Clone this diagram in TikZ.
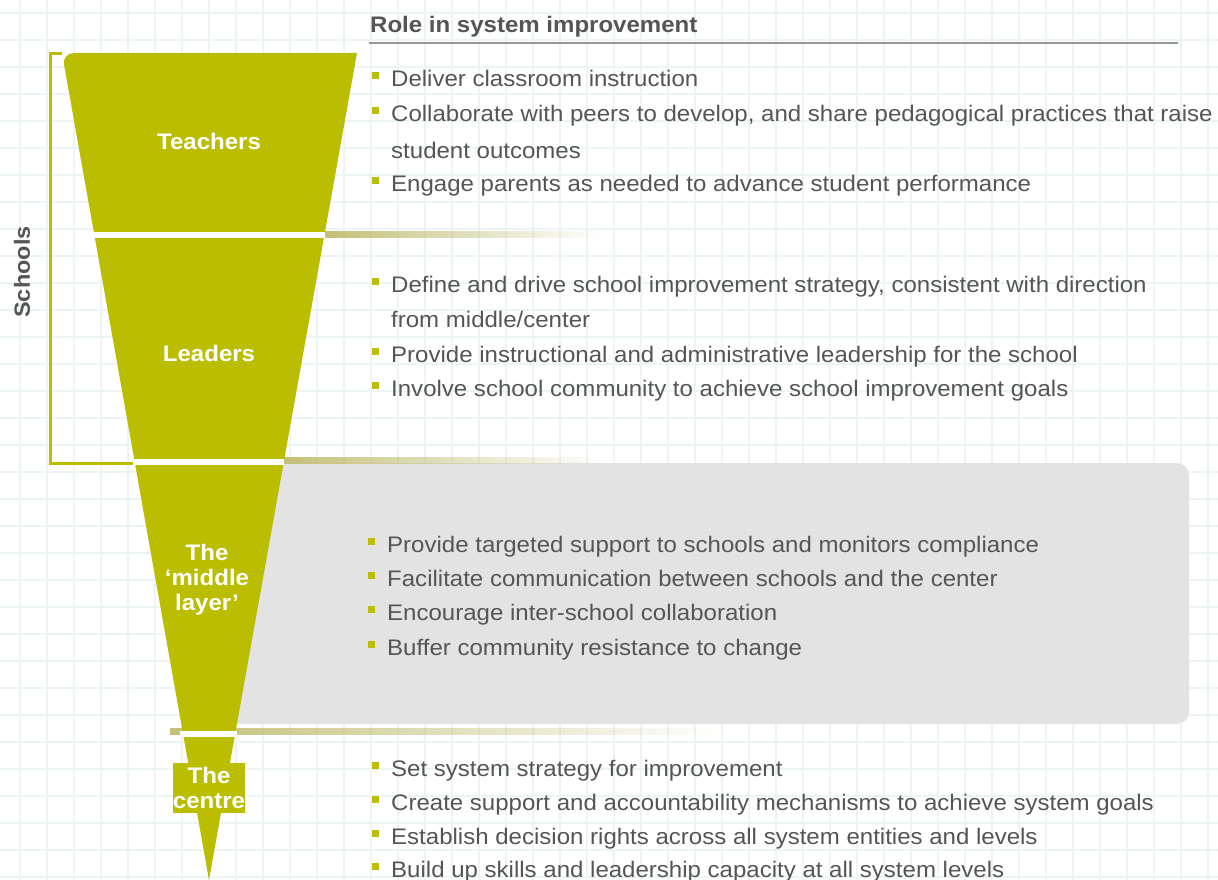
\documentclass[tikz,border=0pt]{standalone}
\usepackage{fontspec}
\setmainfont{Liberation Sans}
\newfontfamily\wide[FakeStretch=1.068]{Liberation Sans}
\usetikzlibrary{calc,fadings}
\definecolor{olv}{RGB}{187,190,0}
\definecolor{tgray}{RGB}{85,85,85}
\definecolor{gridc}{RGB}{236,244,246}
\definecolor{boxc}{RGB}{227,227,227}
\definecolor{barc}{RGB}{196,192,120}
\definecolor{linec}{RGB}{150,150,150}
\tikzset{
  txt/.style={font=\wide\fontsize{22.5}{26}\selectfont, text=tgray, inner sep=0pt, anchor=base west},
  lbl/.style={font=\wide\fontsize{22.5}{25}\selectfont\bfseries, text=white, align=center, inner sep=0pt},
  sep/.style={fill=white},
  bar/.style={fill=barc, path fading=east},
  bul/.style={fill=olv},
  gridline/.style={gridc, line width=1.3pt},
}
\newcommand\bitem[3]{%
  \node[txt] (#1) at (#2) {#3};
  \fill[bul] ($(#1.base west)+(-19.5,-14.5)$) rectangle ++(7,7);
}
\newcommand\citem[3]{%
  \node[txt] (#1) at (#2) {#3};
}
\begin{document}
\begin{tikzpicture}[x=1pt,y=-1pt]
\useasboundingbox (0,0) rectangle (1218,880);
\fill[white] (0,0) rectangle (1218,880);
% background grid
\foreach \gx in {20,47,...,1230} {\draw[gridline] (\gx,0) -- (\gx,880);}
\foreach \gy in {13,40,...,890} {\draw[gridline] (0,\gy) -- (1218,\gy);}
% gray box behind the middle layer
\fill[boxc, rounded corners=12] (225,463) rectangle (1189,724);
% gradient bars
\fill[bar] (325,231) rectangle (600,238);
\fill[bar] (283,457) rectangle (600,464);
\fill[bar] (170,728) rectangle (720,735);
% funnel
\fill[olv] (209,880) [rounded corners=12] -- (62,53) [sharp corners] -- (357,53) -- cycle;
% separators
\fill[sep] (88,232) rectangle (325,238);
\fill[sep] (132,459) rectangle (284,465);
\fill[sep] (180,731) rectangle (237,737);
% bracket
\draw[olv, line width=3pt] (62,54) -- (50,54) -- (50,463) -- (133,463);
\node[font=\wide\fontsize{22}{24}\selectfont\bfseries, text=tgray, rotate=90] (schools) at (22,272) {Schools};
% funnel labels
\node[lbl] (teachers) at (209,141) {Teachers};
\node[lbl] (leaders) at (209,353) {Leaders};
\node[lbl] (middle) at (207,580) {The\\‘middle\\layer’};
\node[lbl, fill=olv, minimum width=72pt, minimum height=50pt] (centre) at (209,788) {The\\centre};
% header
\node[font=\wide\fontsize{22.5}{26}\selectfont\bfseries, text=tgray, inner sep=0pt, anchor=base west] (head) at (370,33) {Role in system improvement};
\draw[linec, line width=1.2pt] (369,43) -- (1178,43);
% teachers
\bitem{t1}{391,87}{Deliver classroom instruction}
\bitem{t2}{391,122}{Collaborate with peers to develop, and share pedagogical practices that raise}
\citem{t2b}{391,158}{student outcomes}
\bitem{t3}{391,191}{Engage parents as needed to advance student performance}
% leaders
\bitem{l1}{391,292}{Define and drive school improvement strategy, consistent with direction}
\citem{l1b}{391,327}{from middle/center}
\bitem{l2}{391,362}{Provide instructional and administrative leadership for the school}
\bitem{l3}{391,396}{Involve school community to achieve school improvement goals}
% middle layer
\bitem{m1}{387,552}{Provide targeted support to schools and monitors compliance}
\bitem{m2}{387,586}{Facilitate communication between schools and the center}
\bitem{m3}{387,620}{Encourage inter-school collaboration}
\bitem{m4}{387,655}{Buffer community resistance to change}
% centre
\bitem{c1}{391,776}{Set system strategy for improvement}
\bitem{c2}{391,810}{Create support and accountability mechanisms to achieve system goals}
\bitem{c3}{391,844}{Establish decision rights across all system entities and levels}
\bitem{c4}{391,877}{Build up skills and leadership capacity at all system levels}
\end{tikzpicture}
\end{document}
